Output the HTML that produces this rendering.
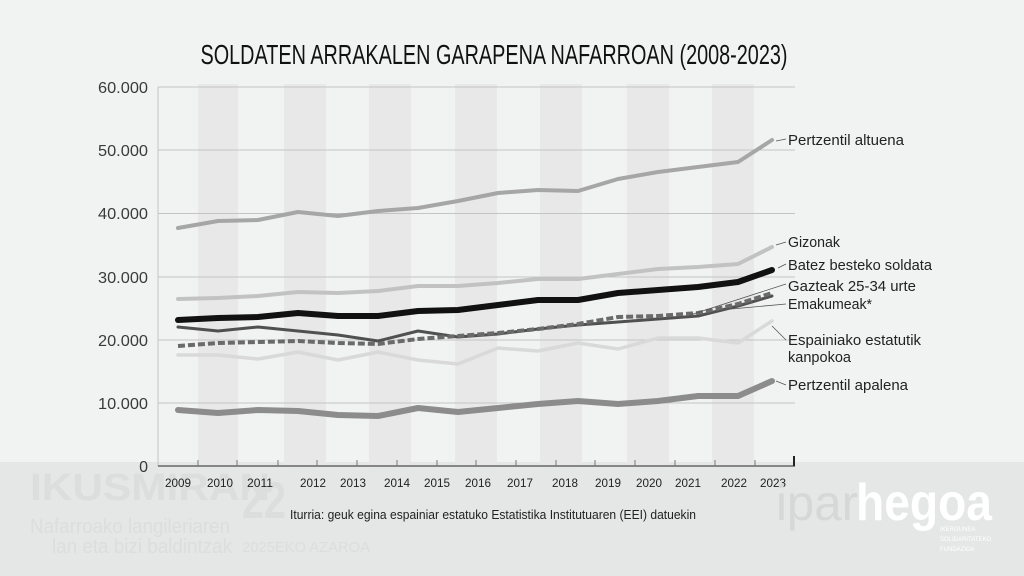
<!DOCTYPE html>
<html><head><meta charset="utf-8"><style>
html,body{margin:0;padding:0;width:1024px;height:576px;overflow:hidden;background:#f1f2f2;}
svg{display:block;font-family:"Liberation Sans",sans-serif;}
</style></head><body>
<svg width="1024" height="576" viewBox="0 0 1024 576">
<rect width="1024" height="576" fill="#f1f2f2"/>
<rect x="0" y="462" width="1024" height="114" fill="#e5e6e6"/>
<!-- watermark -->
<g fill="#dcdddd">
<text x="30" y="500" font-size="38" font-weight="bold" textLength="240" lengthAdjust="spacingAndGlyphs">IKUSMIRAN</text>
<text x="242" y="518" font-size="52" font-weight="bold" textLength="44" lengthAdjust="spacingAndGlyphs">22</text>
<text x="30" y="533" font-size="20" textLength="200" lengthAdjust="spacingAndGlyphs">Nafarroako langileriaren</text>
<text x="52" y="553" font-size="20" textLength="180" lengthAdjust="spacingAndGlyphs">lan eta bizi baldintzak</text>
<text x="242" y="552" font-size="15" textLength="128" lengthAdjust="spacingAndGlyphs">2025EKO AZAROA</text>
</g>
<!-- stripes -->
<g fill="#e8e8e8">
<rect x="198" y="84" width="40" height="382"/>
<rect x="284" y="84" width="42" height="382"/>
<rect x="369" y="84" width="42" height="382"/>
<rect x="455" y="84" width="42" height="382"/>
<rect x="540" y="84" width="42" height="382"/>
<rect x="627" y="84" width="42" height="382"/>
<rect x="712" y="84" width="42" height="382"/>
</g>
<!-- gridlines -->
<g stroke="#c4c4c4" stroke-width="1">
<line x1="158" y1="87" x2="795" y2="87"/>
<line x1="158" y1="150" x2="795" y2="150"/>
<line x1="158" y1="213.5" x2="795" y2="213.5"/>
<line x1="158" y1="277" x2="795" y2="277"/>
<line x1="158" y1="340" x2="795" y2="340"/>
<line x1="158" y1="403" x2="795" y2="403"/>
<line x1="158" y1="87" x2="158" y2="466"/>
</g>
<line x1="158" y1="466" x2="795" y2="466" stroke="#666" stroke-width="1.5"/>
<g stroke="#777" stroke-width="1">
<line x1="198" y1="466" x2="198" y2="460"/><line x1="237" y1="466" x2="237" y2="460"/>
<line x1="278" y1="466" x2="278" y2="460"/><line x1="317" y1="466" x2="317" y2="460"/>
<line x1="357" y1="466" x2="357" y2="460"/><line x1="397" y1="466" x2="397" y2="460"/>
<line x1="437" y1="466" x2="437" y2="460"/><line x1="476" y1="466" x2="476" y2="460"/>
<line x1="516" y1="466" x2="516" y2="460"/><line x1="556" y1="466" x2="556" y2="460"/>
<line x1="595" y1="466" x2="595" y2="460"/><line x1="635" y1="466" x2="635" y2="460"/>
<line x1="675" y1="466" x2="675" y2="460"/><line x1="715" y1="466" x2="715" y2="460"/>
<line x1="755" y1="466" x2="755" y2="460"/>
</g>
<line x1="794" y1="466" x2="794" y2="456" stroke="#222" stroke-width="2"/>
<!-- title -->
<text x="494" y="64" font-size="28" text-anchor="middle" fill="#111" textLength="587" lengthAdjust="spacingAndGlyphs">SOLDATEN ARRAKALEN GARAPENA NAFARROAN (2008-2023)</text>
<!-- y labels -->
<g font-size="16" fill="#3a3a3a" text-anchor="end">
<text x="148" y="93" textLength="50" lengthAdjust="spacingAndGlyphs">60.000</text>
<text x="148" y="156" textLength="50" lengthAdjust="spacingAndGlyphs">50.000</text>
<text x="148" y="219" textLength="50" lengthAdjust="spacingAndGlyphs">40.000</text>
<text x="148" y="283" textLength="50" lengthAdjust="spacingAndGlyphs">30.000</text>
<text x="148" y="346" textLength="50" lengthAdjust="spacingAndGlyphs">20.000</text>
<text x="148" y="409" textLength="50" lengthAdjust="spacingAndGlyphs">10.000</text>
<text x="148" y="472">0</text>
</g>
<!-- x labels -->
<g font-size="12" fill="#222" text-anchor="middle">
<text x="178" y="487" textLength="26" lengthAdjust="spacingAndGlyphs">2009</text>
<text x="220" y="487" textLength="26" lengthAdjust="spacingAndGlyphs">2010</text>
<text x="260" y="487" textLength="26" lengthAdjust="spacingAndGlyphs">2011</text>
<text x="313" y="487" textLength="26" lengthAdjust="spacingAndGlyphs">2012</text>
<text x="353" y="487" textLength="26" lengthAdjust="spacingAndGlyphs">2013</text>
<text x="397" y="487" textLength="26" lengthAdjust="spacingAndGlyphs">2014</text>
<text x="437" y="487" textLength="26" lengthAdjust="spacingAndGlyphs">2015</text>
<text x="478" y="487" textLength="26" lengthAdjust="spacingAndGlyphs">2016</text>
<text x="520" y="487" textLength="26" lengthAdjust="spacingAndGlyphs">2017</text>
<text x="565" y="487" textLength="26" lengthAdjust="spacingAndGlyphs">2018</text>
<text x="608" y="487" textLength="26" lengthAdjust="spacingAndGlyphs">2019</text>
<text x="649" y="487" textLength="26" lengthAdjust="spacingAndGlyphs">2020</text>
<text x="688" y="487" textLength="26" lengthAdjust="spacingAndGlyphs">2021</text>
<text x="734" y="487" textLength="26" lengthAdjust="spacingAndGlyphs">2022</text>
<text x="773" y="487" textLength="26" lengthAdjust="spacingAndGlyphs">2023</text>
</g>
<!-- series -->
<g fill="none" stroke-linejoin="round" stroke-linecap="round">
<polyline stroke="#a6a6a6" stroke-width="4" points="178,228 218,221 258,220 298,212 338,216 378,211 418,208 458,201 498,193 538,190 578,191 618,179 658,172 698,167 738,162 772,140"/>
<polyline stroke="#c2c2c2" stroke-width="4" points="178,299 218,298 258,296 298,292 338,293 378,291 418,286 458,286 498,283 538,279 578,279 618,274 658,269 698,267 738,264 772,247"/>
<polyline stroke="#d9d9d9" stroke-width="3.5" points="178,355 218,355 258,359 298,352 338,360 378,352 418,360 458,364 498,348 538,351 578,343 618,349 658,338 698,338 738,343 772,321"/>
<polyline stroke="#8c8c8c" stroke-width="6" points="178,410 218,413 258,410 298,411 338,415 378,416 418,408 458,412 498,408 538,404 578,401 618,404 658,401 698,396 738,396 772,381"/>
<polyline stroke="#505050" stroke-width="3" points="178,327 218,331 258,327 298,331 338,335 378,341 418,331 458,337 498,334 538,329 578,325 618,322 658,319 698,316 738,306 772,296"/>
<polyline stroke="#6a6a6a" stroke-width="4" stroke-linecap="butt" stroke-dasharray="7,3" points="178,346 218,343 258,342 298,341 338,343 378,344 418,339 458,336 498,333 538,329 578,324 618,317 658,316 698,313 738,304 772,293"/>
<polyline stroke="#111" stroke-width="6" points="178,320 218,318 258,317 298,313 338,316 378,316 418,311 458,310 498,305 538,300 578,300 618,293 658,290 698,287 738,282 772,270"/>
</g>
<!-- leader lines -->
<g stroke="#555" stroke-width="0.8" fill="none">
<line x1="776" y1="141" x2="786" y2="139"/>
<line x1="776" y1="245" x2="786" y2="242"/>
<line x1="778" y1="268" x2="786" y2="264"/>
<line x1="690" y1="315" x2="786" y2="284"/>
<line x1="720" y1="310" x2="786" y2="304"/>
<line x1="772" y1="326" x2="786" y2="340"/>
<line x1="776" y1="381" x2="786" y2="385"/>
</g>
<g font-size="15" fill="#222">
<text x="788" y="145" textLength="116" lengthAdjust="spacingAndGlyphs">Pertzentil altuena</text>
<text x="788" y="247" textLength="52" lengthAdjust="spacingAndGlyphs">Gizonak</text>
<text x="788" y="270" textLength="144" lengthAdjust="spacingAndGlyphs">Batez besteko soldata</text>
<text x="788" y="291" textLength="128" lengthAdjust="spacingAndGlyphs">Gazteak 25-34 urte</text>
<text x="788" y="309" textLength="84" lengthAdjust="spacingAndGlyphs">Emakumeak*</text>
<text x="788" y="345" textLength="133" lengthAdjust="spacingAndGlyphs">Espainiako estatutik</text>
<text x="788" y="362" textLength="63" lengthAdjust="spacingAndGlyphs">kanpokoa</text>
<text x="788" y="390" textLength="120" lengthAdjust="spacingAndGlyphs">Pertzentil apalena</text>
</g>
<!-- footer -->
<text x="290" y="519" font-size="13" fill="#222" textLength="406" lengthAdjust="spacingAndGlyphs">Iturria: geuk egina espainiar estatuko Estatistika Institutuaren (EEI) datuekin</text>
<text x="776" y="520" font-size="50" fill="#d6d7d7" textLength="82" lengthAdjust="spacingAndGlyphs">ipar</text>
<text x="856" y="520" font-size="52" font-weight="bold" fill="#ffffff" textLength="136" lengthAdjust="spacingAndGlyphs">hegoa</text>
<g fill="#ffffff" font-size="6">
<text x="940" y="531">IKERGUNEA</text>
<text x="940" y="541">SOLIDARITATEKO</text>
<text x="940" y="551">FUNDAZIOA</text>
</g>
</svg>
</body></html>
